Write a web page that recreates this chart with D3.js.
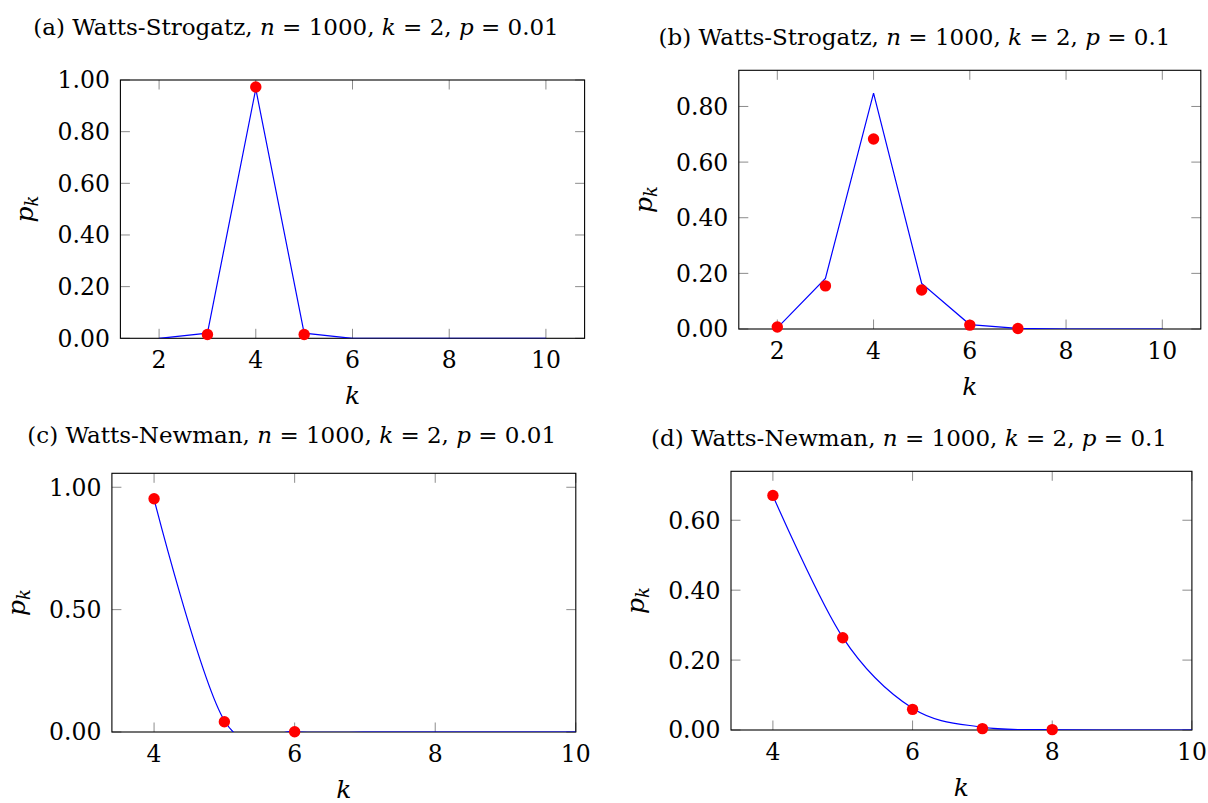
<!DOCTYPE html>
<html>
<head>
<meta charset="utf-8">
<script src="https://cdn.jsdelivr.net/npm/d3@7"></script>
<style>
  html, body { margin: 0; padding: 0; background: #fff; }
  svg text { font-family: 'DejaVu Serif', serif; fill: #000; }
</style>
</head>
<body>
<div id="chart"></div>
<script>
// Degree values k
const kWS = [2, 3, 4, 5, 6, 7, 8, 9, 10];
const kWN = [4, 5, 6, 7, 8, 9, 10];

// (a) Watts-Strogatz p = 0.01
const theoryA = [0, 0.02, 0.966, 0.02, 0, 0, 0, 0, 0];
const simKA = [3, 4, 5];
const simA = [0.015, 0.973, 0.015];

// (b) Watts-Strogatz p = 0.1
const theoryB = [0.004, 0.182, 0.848, 0.164, 0.016, 0.002, 0, 0, 0];
const simKB = [2, 3, 4, 5, 6, 7];
const simB = [0.007, 0.155, 0.683, 0.14, 0.014, 0.002];

// (c) Watts-Newman p = 0.01
const theoryC = [0.951, 0.047, 0.002, 0, 0, 0, 0];
const simKC = [4, 5, 6];
const simC = [0.953, 0.042, 0.001];

// (d) Watts-Newman p = 0.1
const theoryD = [0.67, 0.265, 0.062, 0.008, 0.001, 0, 0];
const simKD = [4, 5, 6, 7, 8];
const simD = [0.671, 0.264, 0.059, 0.004, 0.001];

// Tick values
const xTicksWS = [2, 4, 6, 8, 10];
const xTicksWN = [4, 6, 8, 10];
const yTicksA = [0, 0.2, 0.4, 0.6, 0.8, 1.0];
const yTicksB = [0, 0.2, 0.4, 0.6, 0.8];
const yTicksC = [0, 0.5, 1.0];
const yTicksD = [0, 0.2, 0.4, 0.6];

const titles = [
  ['(a) Watts-Strogatz, ', '1000', '2', '0.01'],
  ['(b) Watts-Strogatz, ', '1000', '2', '0.1'],
  ['(c) Watts-Newman, ', '1000', '2', '0.01'],
  ['(d) Watts-Newman, ', '1000', '2', '0.1'],
];

const panels = [
  { title: titles[0], k: kWS, line: theoryA, simK: simKA, sim: simA, smooth: false,
    xDomain: [1.2, 10.8], yDomain: [0, 1.0], xTicks: xTicksWS, yTicks: yTicksA,
    box: [120.4, 80, 584.6, 338.3], titleX: 296, titleY: 35 },
  { title: titles[1], k: kWS, line: theoryB, simK: simKB, sim: simB, smooth: false,
    xDomain: [1.2, 10.8], yDomain: [0, 0.93], xTicks: xTicksWS, yTicks: yTicksB,
    box: [738.8, 70.3, 1200.8, 329], titleX: 914.5, titleY: 45 },
  { title: titles[2], k: kWN, line: theoryC, simK: simKC, sim: simC, smooth: true,
    xDomain: [3.4, 10], yDomain: [0, 1.057], xTicks: xTicksWN, yTicks: yTicksC,
    box: [111.9, 473.3, 575.8, 732], titleX: 291.7, titleY: 443.3 },
  { title: titles[3], k: kWN, line: theoryD, simK: simKD, sim: simD, smooth: true,
    xDomain: [3.4, 10], yDomain: [0, 0.74], xTicks: xTicksWN, yTicks: yTicksD,
    box: [731, 471.3, 1191.9, 730], titleX: 909, titleY: 446 },
];

const svg = d3.select('#chart')
  .append('svg')
  .attr('width', 1208)
  .attr('height', 803);

const fmt = d3.format('.2f');
const tickLen = 9.5;

panels.forEach((p, i) => {
  const [x0, y0, x1, y1] = p.box;
  const x = d3.scaleLinear().domain(p.xDomain).range([x0, x1]);
  const y = d3.scaleLinear().domain(p.yDomain).range([y1, y0]);
  const g = svg.append('g');

  // Clip for the line
  const clipId = 'clip' + i;
  svg.append('clipPath').attr('id', clipId)
    .append('rect')
    .attr('x', x0).attr('y', y0)
    .attr('width', x1 - x0).attr('height', y1 - y0);

  // Ticks on all four sides, inside
  const ticks = g.append('g').attr('stroke', '#8c8c8c').attr('stroke-width', 1);
  p.xTicks.forEach((t) => {
    ticks.append('line').attr('x1', x(t)).attr('x2', x(t)).attr('y1', y1).attr('y2', y1 - tickLen);
    ticks.append('line').attr('x1', x(t)).attr('x2', x(t)).attr('y1', y0).attr('y2', y0 + tickLen);
  });
  p.yTicks.forEach((t) => {
    ticks.append('line').attr('x1', x0).attr('x2', x0 + tickLen).attr('y1', y(t)).attr('y2', y(t));
    ticks.append('line').attr('x1', x1).attr('x2', x1 - tickLen).attr('y1', y(t)).attr('y2', y(t));
  });

  // Box
  g.append('rect')
    .attr('x', x0).attr('y', y0)
    .attr('width', x1 - x0).attr('height', y1 - y0)
    .attr('fill', 'none')
    .attr('stroke', '#000')
    .attr('stroke-width', 1.1);

  // Tick labels
  g.selectAll('.xl')
    .data(p.xTicks)
    .enter()
    .append('text')
    .attr('x', (d) => x(d))
    .attr('y', y1 + 29.5)
    .attr('text-anchor', 'middle')
    .style('font-size', '23.5px')
    .text((d) => d);

  g.selectAll('.yl')
    .data(p.yTicks)
    .enter()
    .append('text')
    .attr('x', x0 - 10.5)
    .attr('y', (d) => y(d))
    .attr('dy', '0.36em')
    .attr('text-anchor', 'end')
    .style('font-size', '23.5px')
    .text((d) => fmt(d));

  // Axis labels
  g.append('text')
    .attr('x', (x0 + x1) / 2)
    .attr('y', y1 + 66)
    .attr('text-anchor', 'middle')
    .style('font-size', '25px')
    .style('font-style', 'italic')
    .text('k');

  const yl = g.append('text')
    .attr('transform', 'translate(' + (x0 - 87) + ',' + (y0 + y1) / 2 + ') rotate(-90)')
    .attr('text-anchor', 'middle')
    .style('font-size', '25px')
    .style('font-style', 'italic');
  yl.append('tspan').text('p');
  yl.append('tspan').attr('dy', 5).style('font-size', '18px').text('k');

  // Title
  const tt = g.append('text')
    .attr('x', p.titleX)
    .attr('y', p.titleY)
    .attr('text-anchor', 'middle')
    .style('font-size', '23px');
  tt.append('tspan').text(p.title[0]);
  tt.append('tspan').style('font-style', 'italic').text('n');
  tt.append('tspan').text(' = ' + p.title[1] + ', ');
  tt.append('tspan').style('font-style', 'italic').text('k');
  tt.append('tspan').text(' = ' + p.title[2] + ', ');
  tt.append('tspan').style('font-style', 'italic').text('p');
  tt.append('tspan').text(' = ' + p.title[3]);

  // Theory line
  const pts = p.k.map((k, j) => [k, p.line[j]]);
  const lineGen = d3.line()
    .x((d) => x(d[0]))
    .y((d) => y(d[1]))
    .curve(p.smooth ? d3.curveCardinal.tension(0) : d3.curveLinear);

  g.append('path')
    .datum(pts)
    .attr('clip-path', 'url(#' + clipId + ')')
    .attr('d', lineGen)
    .attr('fill', 'none')
    .attr('stroke', '#0000ff')
    .attr('stroke-width', 1.2);

  // Simulation marks
  g.selectAll('.dot')
    .data(p.simK.map((k, j) => [k, p.sim[j]]))
    .enter()
    .append('circle')
    .attr('cx', (d) => x(d[0]))
    .attr('cy', (d) => y(d[1]))
    .attr('r', 5.7)
    .attr('fill', '#ff0000');
});
</script>
</body>
</html>
